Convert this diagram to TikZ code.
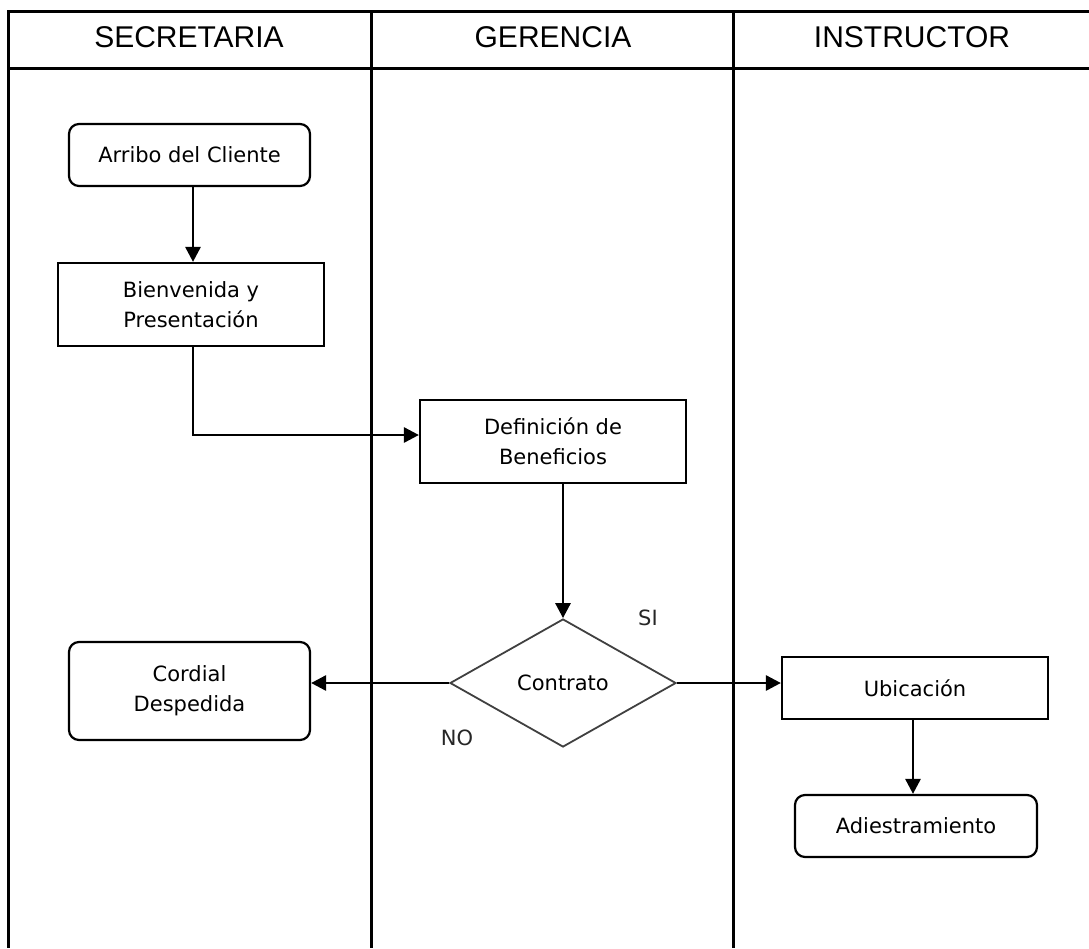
\documentclass[tikz,border=0pt]{standalone}
\usepackage{fontspec}
\setmainfont{Liberation Sans}
\newfontfamily\boxfont{DejaVu Sans}
\usetikzlibrary{shapes.geometric,arrows.meta}
\tikzset{
  lane/.style={line width=3pt,black},
  head/.style={font=\fontsize{30}{32}\selectfont},
  proc/.style={draw,line width=2.2pt,align=center,inner sep=0pt,font=\boxfont\fontsize{21}{30}\selectfont},
  rproc/.style={proc,rounded corners=10pt},
  dec/.style={draw=black!75,line width=1.8pt,diamond,inner sep=0pt,font=\boxfont\fontsize{21}{30}\selectfont},
  lbl/.style={font=\boxfont\fontsize{21}{24}\selectfont,black!85},
  arr/.style={line width=2.8pt,-{Triangle[length=15pt,width=15pt]}}
}
\begin{document}
\begin{tikzpicture}[x=1pt,y=-1pt]
\useasboundingbox (0,0) rectangle (1089,948);
% swimlane frame
\draw[lane] (1089,11) -- (8,11) -- (8,948);
\draw[lane] (8,68) -- (1089,68);
\draw[lane] (371,11) -- (371,948);
\draw[lane] (733,11) -- (733,948);
\node[head] (h1) at (189,37) {SECRETARIA};
\node[head] (h2) at (553,37) {GERENCIA};
\node[head] (h3) at (912,37) {INSTRUCTOR};
% nodes
\node[rproc,minimum width=241pt,minimum height=62pt] (arribo) at (189.5,155) {Arribo del Cliente};
\node[proc,minimum width=266pt,minimum height=83pt] (bienv) at (191,304.5) {Bienvenida y\\Presentación};
\node[proc,minimum width=266pt,minimum height=83pt] (defin) at (553,441.5) {Definición de\\Beneficios};
\node[dec,minimum width=226pt,minimum height=128pt] (contrato) at (563,683) {Contrato};
\node[rproc,minimum width=241pt,minimum height=98pt] (cordial) at (189.5,691) {Cordial\\Despedida};
\node[proc,minimum width=266pt,minimum height=62pt] (ubic) at (915,688) {Ubicación};
\node[rproc,minimum width=242pt,minimum height=62pt] (adies) at (916,826) {Adiestramiento};
\node[lbl] (si) at (648,618) {SI};
\node[lbl] (no) at (457,738) {NO};
% connectors
\draw[arr] ([xshift=3.5pt]arribo.south) -- ([xshift=3.5pt]arribo.south |- bienv.north);
\draw[arr] ([xshift=2pt]bienv.south) |- ([yshift=6.5pt]defin.west);
\draw[arr] (defin.south -| contrato.north) -- (contrato.north);
\draw[arr] (contrato.west) -- (contrato.west -| cordial.east);
\draw[arr] (contrato.east) -- (contrato.east -| ubic.west);
\draw[arr] ([xshift=-2pt]ubic.south) -- ([xshift=-2pt]ubic.south |- adies.north);
\end{tikzpicture}
\end{document}
